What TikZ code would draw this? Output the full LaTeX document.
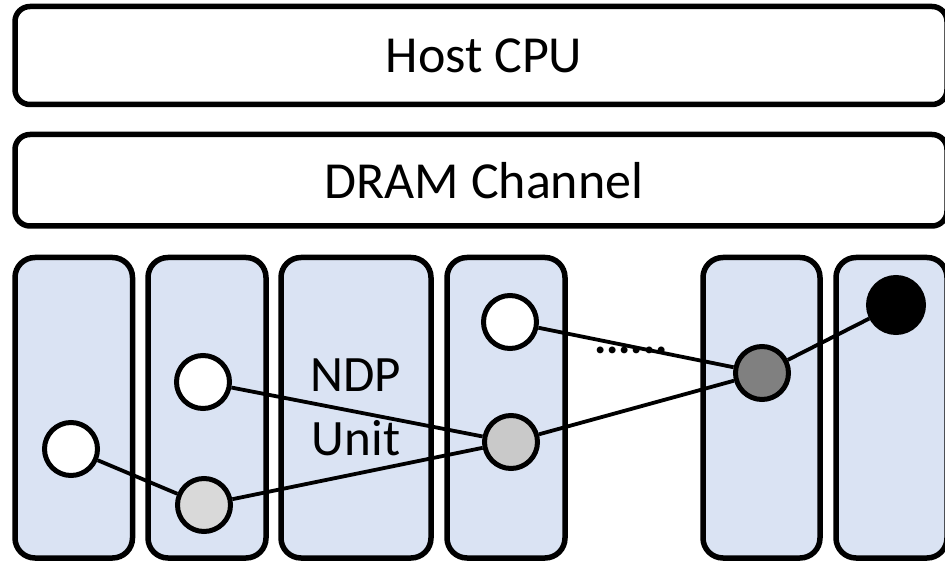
\documentclass[tikz,border=0pt]{standalone}
\usepackage{fontspec}
\setmainfont{Carlito}
\definecolor{lanefill}{HTML}{DAE3F3}
\definecolor{lightdot}{HTML}{D9D9D9}
\definecolor{middot}{HTML}{C9C9C9}
\definecolor{darkdot}{HTML}{808080}
\begin{document}
\begin{tikzpicture}[x=1pt,y=-1pt,
  bar/.style={draw, line width=5.5pt, rounded corners=15pt, fill=white, inner sep=0pt,
    minimum width=932pt, font=\fontsize{52}{62}\selectfont},
  lane/.style={draw, line width=5.5pt, rounded corners=20pt, fill=lanefill, inner sep=0pt,
    minimum height=300.5pt, align=center, font=\fontsize{51}{64}\selectfont},
  pe/.style={circle, draw, line width=5pt, minimum size=53pt, inner sep=0pt},
  link/.style={line width=3.8pt}]
\useasboundingbox (0,0) rectangle (945,561);
\clip (0,0) rectangle (945,561);
% top bars
\node[bar, minimum height=98pt] (cpu) at (481,55.5) {\hspace{6pt}Host CPU};
\node[bar, minimum height=91.5pt] (chan) at (481,180.25) {\hspace{6pt}DRAM Channel};
% lanes
\node[lane, minimum width=117.5pt] (b1) at (73.75,407.75) {};
\node[lane, minimum width=118pt] (b2) at (207,407.75) {};
\node[lane, minimum width=150pt] (b3) at (356,407.75) {NDP\\Unit};
\node[lane, minimum width=118pt] (b4) at (506,407.75) {};
\node[lane, minimum width=117pt] (b5) at (761.5,407.75) {};
\node[lane, minimum width=111pt] (b6) at (891.5,407.75) {};
% ellipsis
\node[anchor=base, inner sep=0pt, font=\fontsize{46}{55}\bfseries] (dots) at (631,353) {......};
% units
\node[pe, fill=white] (c1) at (71,449) {};
\node[pe, fill=white] (c2) at (203,382) {};
\node[pe, fill=lightdot] (c3) at (204,505) {};
\node[pe, fill=white] (c4) at (510,322) {};
\node[pe, fill=middot] (c5) at (511,442) {};
\node[pe, fill=darkdot] (c6) at (762,373) {};
\node[pe, fill=black, minimum size=55pt] (c7) at (896,305) {};
% connectors
\draw[link] (c1) -- (c3);
\draw[link] (c3) -- (c5);
\draw[link] (c2) -- (c5);
\draw[link] (c5) -- (c6);
\draw[link] (c4) -- (c6);
\draw[link] (c6) -- (c7);
\end{tikzpicture}
\end{document}
